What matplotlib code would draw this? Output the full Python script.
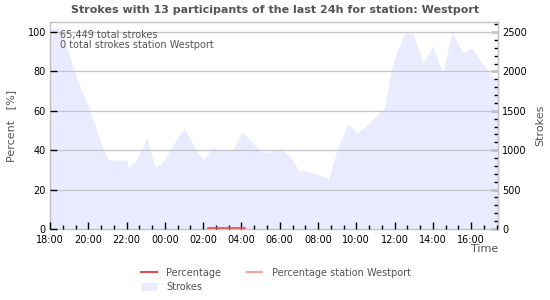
import matplotlib
matplotlib.use("Agg")
import matplotlib.pyplot as plt
from matplotlib.lines import Line2D
from matplotlib.patches import Patch
from matplotlib.ticker import MultipleLocator, FixedLocator

# hours since 18:00
stroke_hours = [0, 0.57, 1.04, 1.46, 1.98, 2.61, 3.03, 4.02, 4.07, 4.44, 5.07, 5.48, 5.90,
                6.42, 7.00, 7.57, 7.99, 8.51, 8.88, 9.50, 10.03, 10.34, 11.07, 11.49, 12.01,
                12.53, 13.05, 13.47, 14.46, 14.52, 15.04, 15.14, 15.56, 16.03, 16.45, 17.49,
                17.86, 18.12, 18.54, 18.96, 19.48, 20.0, 20.52, 20.99, 21.57, 22.04, 22.56,
                22.87, 23.39]
strokes = [2551, 2551, 2183, 1865, 1574, 1129, 875, 875, 787, 850, 1155, 774, 850,
           1066, 1282, 1028, 875, 1041, 990, 990, 1231, 1155, 977, 977, 1028,
           914, 736, 736, 647, 609, 1041, 1091, 1332, 1218, 1294, 1548,
           2056, 2246, 2487, 2475, 2107, 2322, 1980, 2500, 2233, 2297, 2107,
           2018, 1853]
pct_hours = [8.25, 10.2]
percentage = [0.3, 0.3]
tick_labels = ["18:00", "20:00", "22:00", "00:00", "02:00", "04:00", "06:00", "08:00",
               "10:00", "12:00", "14:00", "16:00"]

GRAY = "#555555"
FILL = "#ebebff"
RED = "#e05050"
PINK = "#f4a0a0"

fig = plt.figure(figsize=(5.5, 3.0), dpi=100)
ax = fig.add_axes([50/550, 1-229/300, 448/550, 207/300])
ax2 = ax.twinx()

ax2.fill_between(stroke_hours, strokes, 0, color=FILL, lw=0, zorder=1)
ax2.set_ylim(0, 2627)
ax.set_ylim(0, 105.1)
ax.set_xlim(0, 23.4)

ax.set_zorder(ax2.get_zorder() + 1)
ax.patch.set_visible(False)

ax.plot(pct_hours, percentage, color=RED, lw=1.2, zorder=5)

for y in [20, 40, 60, 80, 100]:
    ax.axhline(y, color="#c4c4c4", lw=0.9, zorder=0.5)

ax.yaxis.set_major_locator(FixedLocator([0, 20, 40, 60, 80, 100]))
ax.xaxis.set_major_locator(FixedLocator([2*i for i in range(12)]))
ax.set_xticklabels(tick_labels)
ax.xaxis.set_minor_locator(MultipleLocator(2/3))
ax.tick_params(axis="x", which="major", direction="in", length=5, width=1, color="black",
               labelsize=7, labelcolor="black", pad=4.5)
ax.tick_params(axis="x", which="minor", direction="in", length=3, width=1, color="black")
ax.tick_params(axis="y", which="major", direction="in", length=5, width=1, color="black",
               labelsize=7, labelcolor="black", pad=3)
ax.yaxis.set_zorder(3)
ax.xaxis.set_zorder(3)

ax2.yaxis.set_major_locator(MultipleLocator(500))
ax2.yaxis.set_minor_locator(MultipleLocator(100))
ax2.tick_params(axis="y", which="major", direction="in", length=5, width=1, color="black",
                labelsize=7, labelcolor="black", pad=3)
ax2.tick_params(axis="y", which="minor", direction="in", length=3, width=1, color="black")

for a in (ax, ax2):
    for s in a.spines.values():
        s.set_color("#c4c4c4")
        s.set_linewidth(0.9)

ax.set_ylabel("Percent   [%]", color=GRAY, fontsize=8, labelpad=8)
ax2.set_ylabel("Strokes", color=GRAY, fontsize=8, labelpad=6)
fig.text(498/550, 1-249/300, "Time", color=GRAY, fontsize=8, ha="right", va="center")

fig.text(275/550, 1-10/300, "Strokes with 13 participants of the last 24h for station: Westport",
         ha="center", va="center", fontsize=8, fontweight="bold", color=GRAY)

ax.text(60/550, 1-35/300, "65,449 total strokes", transform=fig.transFigure,
        fontsize=7, color=GRAY, va="center", ha="left")
ax.text(60/550, 1-45/300, "0 total strokes station Westport", transform=fig.transFigure,
        fontsize=7, color=GRAY, va="center", ha="left")

handles = [Line2D([], [], color=RED, lw=1.5),
           Patch(facecolor=FILL, edgecolor="none"),
           Line2D([], [], color=PINK, lw=1.5)]
labels = ["Percentage", "Strokes", "Percentage station Westport"]
leg = fig.legend(handles, labels, ncol=2, loc="center", bbox_to_anchor=(276/550, 1-280/300),
                 frameon=False, fontsize=7, handlelength=1.6, handleheight=0.9,
                 columnspacing=2.6, labelspacing=0.45, handletextpad=1.0)
for t in leg.get_texts():
    t.set_color(GRAY)

fig.savefig("out.png", dpi=100)
